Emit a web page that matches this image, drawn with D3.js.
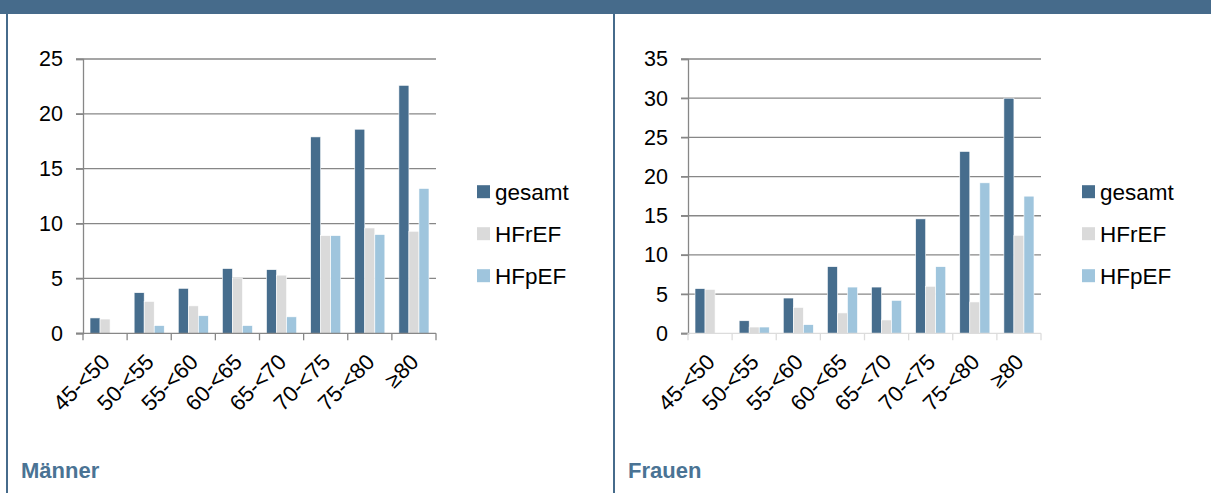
<!DOCTYPE html>
<html><head><meta charset="utf-8">
<script src="https://cdn.jsdelivr.net/npm/d3@7"></script>
<style>html,body{margin:0;padding:0;background:#fff;}svg{display:block;font-family:"Liberation Sans",Arial,sans-serif;}</style>
</head><body>
<svg id="c" width="1211" height="493"></svg>
<script>
const categories = ["45-<50","50-<55","55-<60","60-<65","65-<70","70-<75","75-<80","≥80"];
const series = ["gesamt","HFrEF","HFpEF"];
const maennerGesamt = [1.4,3.7,4.1,5.9,5.8,17.9,18.6,22.6];
const maennerHFrEF  = [1.3,2.9,2.5,5.0,5.3,8.9,9.6,9.3];
const maennerHFpEF  = [0,0.7,1.6,0.7,1.5,8.9,9.0,13.2];
const frauenGesamt  = [5.7,1.6,4.5,8.5,5.9,14.6,23.2,30.0];
const frauenHFrEF   = [5.6,0.8,3.3,2.6,1.7,6.0,4.0,12.5];
const frauenHFpEF   = [0,0.8,1.1,5.9,4.2,8.5,19.2,17.5];
const maennerTicks = [0,5,10,15,20,25];
const frauenTicks  = [0,5,10,15,20,25,30,35];
const panelTitles = ["Männer","Frauen"];

const colors = {gesamt:"#466d8d", HFrEF:"#dadada", HFpEF:"#9fc5dd"};
const blue = "#466b8b";
const svg = d3.select("#c");

svg.append("rect").attr("x",0).attr("y",0).attr("width",1211).attr("height",14).attr("fill",blue);
svg.append("line").attr("x1",7).attr("x2",7).attr("y1",14).attr("y2",493).attr("stroke",blue).attr("stroke-width",2);
svg.append("line").attr("x1",614).attr("x2",614).attr("y1",14).attr("y2",493).attr("stroke",blue).attr("stroke-width",2);

function panel(cfg){
  const g = svg.append("g");
  const x = d3.scaleBand().domain(categories).range([cfg.x0, cfg.x1]).padding(0);
  const xs = d3.scaleBand().domain(series).range([0, x.bandwidth()]).paddingInner(0).paddingOuter(0.7);
  const y = d3.scaleLinear().domain([0, d3.max(cfg.ticks)]).range([333.3, 59]);
  g.selectAll(".grid").data(cfg.ticks.filter(t=>t>0)).join("line")
    .attr("x1", cfg.x0-7).attr("x2", cfg.x1).attr("y1", d=>y(d)).attr("y2", d=>y(d))
    .attr("stroke","#878787").attr("stroke-width",1.3);
  const ya = g.append("g").attr("transform",`translate(${cfg.x0},0)`)
    .call(d3.axisLeft(y).tickValues(cfg.ticks).tickSize(7).tickPadding(13));
  ya.select(".domain").attr("stroke","#878787").attr("stroke-width",1.3);
  ya.selectAll(".tick line").attr("stroke","#878787").attr("stroke-width",1.3);
  ya.selectAll(".tick text").attr("font-size","21.5px").attr("fill","#000").attr("font-family","Liberation Sans, Arial, sans-serif");
  series.forEach((s,si)=>{
    g.selectAll(".b"+si).data(cfg.values[si]).join("rect")
      .attr("x",(d,i)=>x(categories[i])+xs(s))
      .attr("width",xs.bandwidth())
      .attr("y",d=>y(d)).attr("height",d=>y(0)-y(d))
      .attr("fill",colors[s]).attr("stroke","#fff").attr("stroke-width",0.6);
  });
  const xc = cfg.xAxisColor;
  g.append("line").attr("x1",cfg.x0-7).attr("x2",cfg.x1).attr("y1",y(0)).attr("y2",y(0)).attr("stroke",xc).attr("stroke-width",1.3);
  g.append("line").attr("x1",cfg.x0-7).attr("x2",cfg.x0).attr("y1",y(0)).attr("y2",y(0)).attr("stroke","#878787").attr("stroke-width",1.3);
  const bounds = categories.map(c=>x(c)).concat([cfg.x1]);
  g.selectAll(".xt").data(bounds).join("line")
    .attr("x1",d=>d).attr("x2",d=>d).attr("y1",y(0)).attr("y2",y(0)+7)
    .attr("stroke",xc).attr("stroke-width",1.3);
  g.selectAll(".xl").data(categories).join("text")
    .attr("transform",d=>`translate(${x(d)+x.bandwidth()/2+6},${y(0)+30}) rotate(-45)`)
    .attr("text-anchor","end").attr("font-size","22px").attr("fill","#000")
    .text(d=>d);
  const lg = g.append("g");
  series.forEach((s,si)=>{
    const cy = 191.7 + si*42;
    lg.append("rect").attr("x",cfg.lx).attr("y",cy-6.5).attr("width",13).attr("height",13).attr("fill",colors[s]);
    lg.append("text").attr("x",cfg.lx+18).attr("y",cy).attr("dy","0.36em").attr("font-size","22.5px").attr("fill","#000").text(s);
  });
  g.append("text").attr("x",cfg.tx).attr("y",478).attr("font-size","22px").attr("font-weight","bold").attr("fill","#4a7394").text(cfg.title);
}

panel({x0:83, x1:436, lx:477, tx:21, ticks:maennerTicks, values:[maennerGesamt,maennerHFrEF,maennerHFpEF], xAxisColor:"#878787", title:panelTitles[0]});
panel({x0:688, x1:1041, lx:1082, tx:628, ticks:frauenTicks, values:[frauenGesamt,frauenHFrEF,frauenHFpEF], xAxisColor:"#dcdcdc", title:panelTitles[1]});
</script>
</body></html>
